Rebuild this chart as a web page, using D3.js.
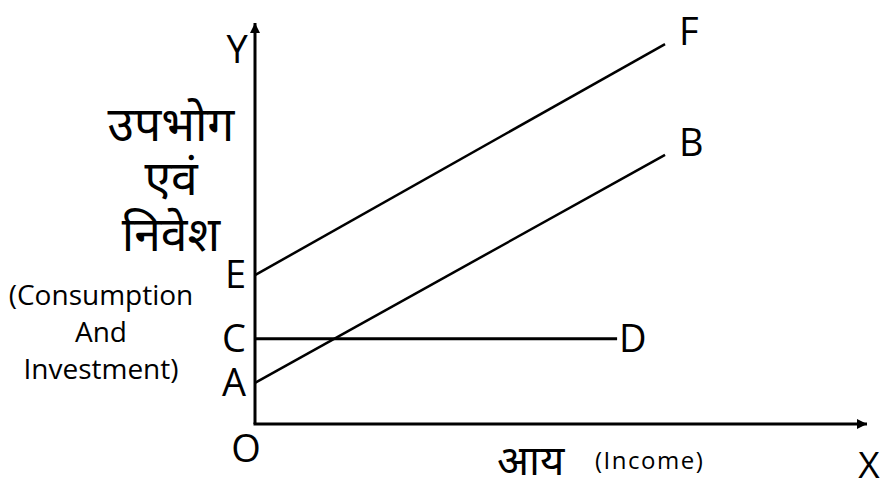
<!DOCTYPE html>
<html>
<head>
<meta charset="utf-8">
<script src="https://cdn.jsdelivr.net/npm/d3@7"></script>
<style>
	body { margin: 0; background: #fff; }
	text { fill: #000; }
	.lat { font-family: "Open Sans", "Liberation Sans", sans-serif; }
	.dev { font-family: "Noto Sans Devanagari", "Lohit Devanagari", "Noto Sans", sans-serif; }
</style>
</head>
<body>
<div id="graph"></div>
<script>
"use strict";
// axis extent in data units (income on x, consumption + investment on y)
let xMax = 12;
let yMax = 8;

// one entry per line: start label, end label, start / end values
let startLabels = ["E", "A", "C"];
let endLabels = ["F", "B", "D"];
let xStart = [0, 0, 0];
let xEnd = [8.04, 8.04, 7.1];
let yStart = [2.97, 0.82, 1.70];
let yEnd = [7.58, 5.37, 1.70];

let yTitleHindi = ["उपभोग", "एवं", "निवेश"];
let yTitleEnglish = ["(Consumption", "And", "Investment)"];
let xTitleHindi = "आय";
let xTitleEnglish = "(Income)";

let width = 883;
let height = 485;
let margin = {
	top: 23,
	right: 16,
	bottom: 61,
	left: 255
};

let x = d3.scaleLinear().domain([0, xMax]).range([margin.left, width - margin.right]);
let y = d3.scaleLinear().domain([0, yMax]).range([height - margin.bottom, margin.top]);

let svg = d3.select("#graph")
			.append("svg")
			.attr("width", width)
			.attr("height", height);

svg.append("defs").append("marker")
	.attr("id", "arrow")
	.attr("markerUnits", "userSpaceOnUse")
	.attr("viewBox", "0 -5 10 10")
	.attr("markerWidth", 10)
	.attr("markerHeight", 10)
	.attr("refX", 10)
	.attr("refY", 0)
	.attr("orient", "auto")
	.append("path")
	.attr("d", "M0,-5L10,0L0,5Z")
	.attr("fill", "#000");

// axes
svg.append("line")
	.attr("x1", x(0)).attr("y1", y(0))
	.attr("x2", x(0)).attr("y2", y(yMax))
	.attr("stroke", "#000")
	.attr("stroke-width", 3)
	.attr("marker-end", "url(#arrow)");

svg.append("line")
	.attr("x1", x(0) - 1.5).attr("y1", y(0))
	.attr("x2", x(xMax)).attr("y2", y(0))
	.attr("stroke", "#000")
	.attr("stroke-width", 3)
	.attr("marker-end", "url(#arrow)");

let rows = startLabels.map(function(d, i)
{
	return {start: d, end: endLabels[i], x0: xStart[i], x1: xEnd[i], y0: yStart[i], y1: yEnd[i]};
});

svg.append("g")
	.selectAll("line")
	.data(rows)
	.enter().append("line")
	.attr("x1", function(d) { return x(d.x0); })
	.attr("y1", function(d) { return y(d.y0); })
	.attr("x2", function(d) { return x(d.x1); })
	.attr("y2", function(d) { return y(d.y1); })
	.attr("stroke", "#000")
	.attr("stroke-width", function(d) { return d.y0 == d.y1 ? 3 : 2.5; });

// point labels
svg.append("g")
	.selectAll("text")
	.data(rows)
	.enter().append("text")
	.attr("class", "lat")
	.attr("x", function(d) { return x(d.x0) - 9; })
	.attr("y", function(d) { return y(d.y0) + 13; })
	.attr("text-anchor", "end")
	.attr("font-size", 38)
	.text(function(d) { return d.start; });

svg.append("g")
	.selectAll("text")
	.data(rows)
	.enter().append("text")
	.attr("class", "lat")
	.attr("x", function(d) { return x(d.x1) + (d.y0 == d.y1 ? 2 : 14); })
	.attr("y", function(d) { return y(d.y1) + (d.y0 == d.y1 ? 13 : 1); })
	.attr("font-size", 38)
	.text(function(d) { return d.end; });

svg.append("text").attr("class", "lat")
	.attr("x", x(0) - 18).attr("y", 63)
	.attr("text-anchor", "middle").attr("font-size", 38).text("Y");
svg.append("text").attr("class", "lat")
	.attr("x", x(0) - 9).attr("y", y(0) + 38)
	.attr("text-anchor", "middle").attr("font-size", 38).text("O");
svg.append("text").attr("class", "lat")
	.attr("x", x(xMax) + 2).attr("y", y(0) + 54)
	.attr("text-anchor", "middle").attr("font-size", 37).text("X");

// axis titles
svg.append("g")
	.selectAll("text")
	.data(yTitleHindi)
	.enter().append("text")
	.attr("class", "dev")
	.attr("x", 171)
	.attr("y", function(d, i) { return [141, 195, 251][i]; })
	.attr("text-anchor", "middle")
	.attr("font-size", 48)
	.text(function(d) { return d; });

svg.append("g")
	.selectAll("text")
	.data(yTitleEnglish)
	.enter().append("text")
	.attr("class", "lat")
	.attr("x", 101)
	.attr("y", function(d, i) { return [305, 342, 379][i]; })
	.attr("text-anchor", "middle")
	.attr("font-size", 28)
	.text(function(d) { return d; });

svg.append("text").attr("class", "dev")
	.attr("x", 497).attr("y", 475)
	.attr("font-size", 42).text(xTitleHindi);
svg.append("text").attr("class", "lat")
	.attr("x", 595).attr("y", 469)
	.attr("font-size", 24)
	.attr("letter-spacing", 1.5)
	.text(xTitleEnglish);
</script>
</body>
</html>
